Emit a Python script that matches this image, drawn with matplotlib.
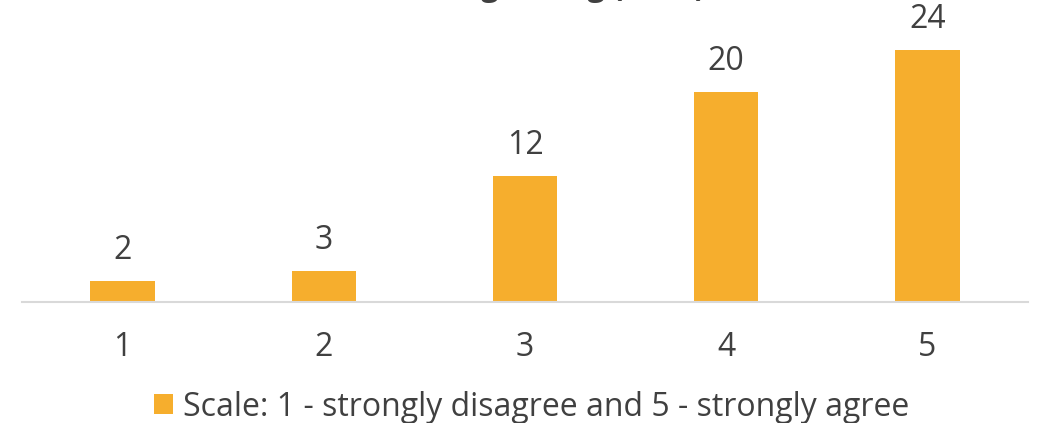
import matplotlib
matplotlib.use("Agg")
import matplotlib.pyplot as plt
from matplotlib.patches import Patch

# Data
categories = ["1", "2", "3", "4", "5"]
counts = [2, 3, 12, 20, 24]
legend_label = "Scale: 1 - strongly disagree and 5 - strongly agree"
title = "Overall Understanding Rating (n=61)"

bar_color = "#F6AE2D"
text_color = "#404040"
font = "Open Sans"

fig = plt.figure(figsize=(10.38, 4.23), dpi=100)
ax = fig.add_axes([22 / 1038, 121 / 423, 1006 / 1038, 302 / 423])

x = range(len(categories))
bars = ax.bar(x, counts, width=0.32, color=bar_color)
ax.set_xlim(-0.5, len(categories) - 0.5)
ax.set_ylim(0, 302 / 10.5)

for b, v in zip(bars, counts):
    ax.annotate(str(v), (b.get_x() + b.get_width() / 2, v), xytext=(0, 10),
                textcoords="offset points", ha="center", va="bottom",
                fontsize=23, color=text_color, family=font)

ax.set_xticks(list(x))
ax.set_xticklabels(categories, fontsize=23, color=text_color, family=font)
ax.tick_params(axis="x", length=0, pad=21)
ax.set_yticks([])
for s in ["top", "right", "left"]:
    ax.spines[s].set_visible(False)
ax.spines["bottom"].set_color("#D9D9D9")
ax.spines["bottom"].set_linewidth(1.5)

# title mostly cut off at the top of the image, only descenders show
fig.text(705 / 1038, 1.0 + 4 / 423, title, ha="right", va="baseline", fontsize=22,
         fontweight="bold", color=text_color, family=font)

handle = Patch(facecolor=bar_color, edgecolor="none")
fig.legend([handle], [legend_label], loc="center", bbox_to_anchor=(0.512, 1 - 407 / 423),
           frameon=False, handlelength=0.6, handleheight=0.6,
           handletextpad=0.3, prop={"family": font, "size": 23})
for t in fig.legends[0].get_texts():
    t.set_color(text_color)

fig.savefig("out.png", dpi=100)
